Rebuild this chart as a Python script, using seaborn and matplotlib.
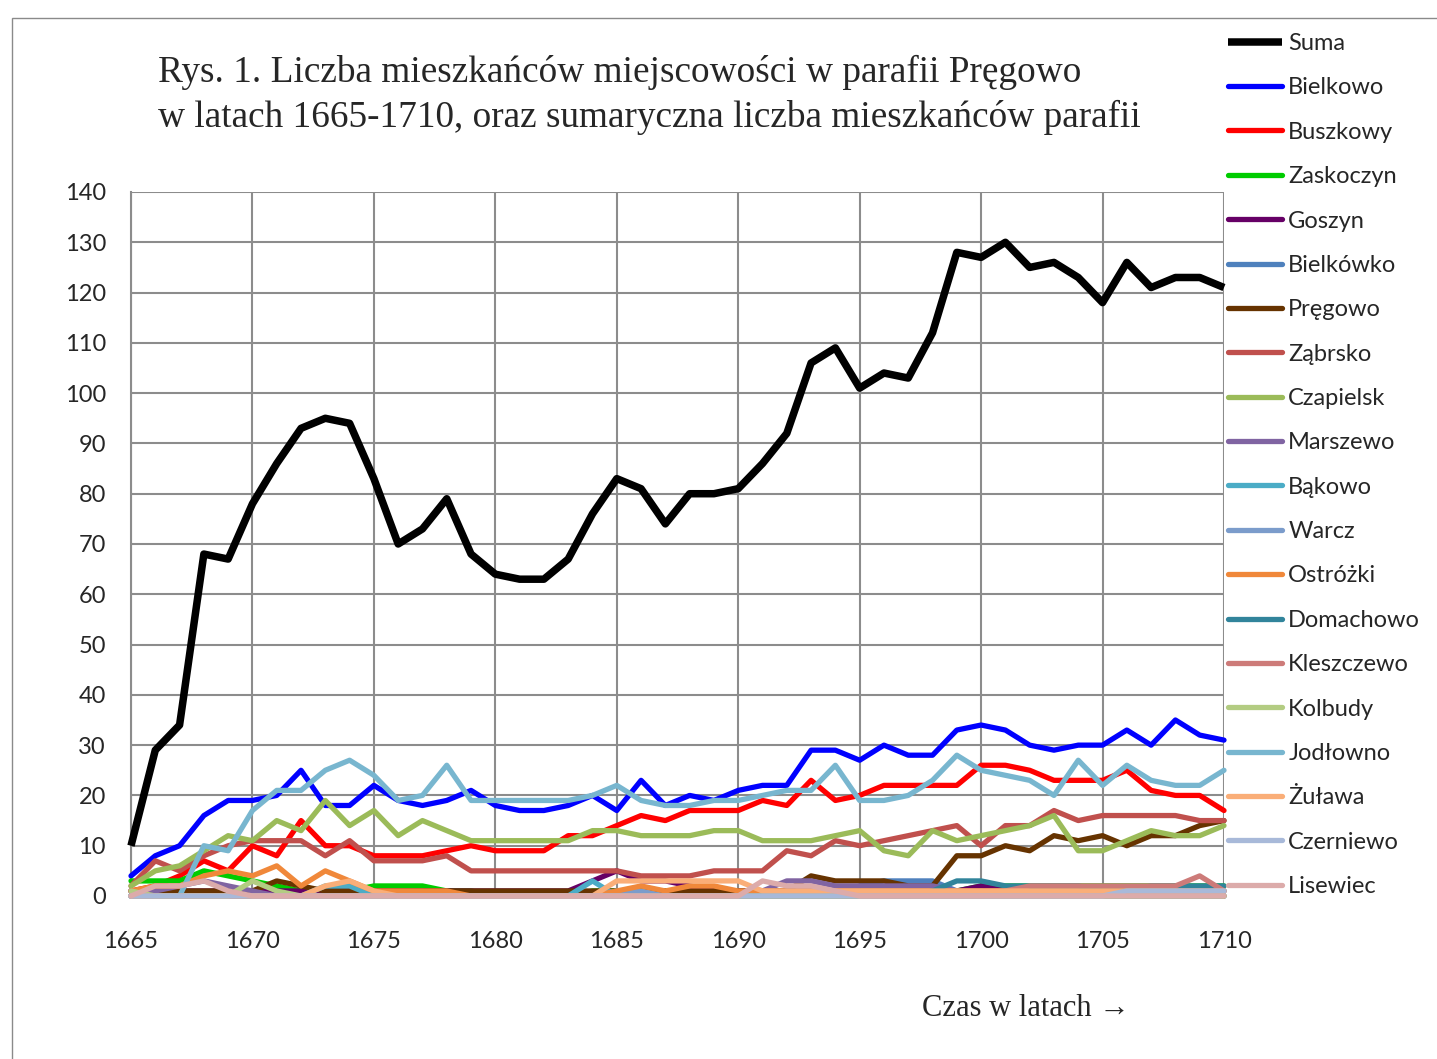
import seaborn as sns
import pandas as pd
import matplotlib.pyplot as plt
from matplotlib.patches import Rectangle

# lata i liczba mieszkancow
lata = list(range(1665, 1711))

suma = [10, 29, 34, 68, 67, 78, 86, 93, 95, 94,
        83, 70, 73, 79, 68, 64, 63, 63, 67, 76,
        83, 81, 74, 80, 80, 81, 86, 92, 106, 109,
        101, 104, 103, 112, 128, 127, 130, 125, 126, 123,
        118, 126, 121, 123, 123, 121]
bielkowo = [4, 8, 10, 16, 19, 19, 20, 25, 18, 18,
            22, 19, 18, 19, 21, 18, 17, 17, 18, 20,
            17, 23, 18, 20, 19, 21, 22, 22, 29, 29,
            27, 30, 28, 28, 33, 34, 33, 30, 29, 30,
            30, 33, 30, 35, 32, 31]
buszkowy = [1, 2, 4, 7, 5, 10, 8, 15, 10, 10,
            8, 8, 8, 9, 10, 9, 9, 9, 12, 12,
            14, 16, 15, 17, 17, 17, 19, 18, 23, 19,
            20, 22, 22, 22, 22, 26, 26, 25, 23, 23,
            23, 25, 21, 20, 20, 17]
zaskoczyn = [3, 3, 3, 5, 4, 3, 2, 1, 1, 1,
             2, 2, 2, 1, 1, 0, 0, 0, 0, 1,
             1, 1, 1, 0, 1, 0, 0, 0, 0, 0,
             0, 0, 0, 0, 1, 2, 2, 2, 2, 2,
             2, 2, 2, 2, 2, 2]
goszyn = [1, 1, 1, 1, 1, 1, 1, 1, 1, 1,
          1, 1, 1, 1, 1, 1, 1, 1, 1, 3,
          5, 3, 3, 2, 1, 1, 1, 1, 1, 1,
          1, 1, 1, 1, 1, 2, 1, 1, 1, 1,
          1, 1, 1, 1, 1, 1]
bielkowko = [0, 0, 0, 0, 0, 0, 0, 0, 0, 0,
             0, 0, 0, 0, 0, 0, 0, 0, 0, 0,
             0, 0, 0, 0, 0, 0, 0, 0, 0, 0,
             2, 3, 3, 3, 1, 0, 0, 0, 0, 0,
             0, 0, 0, 0, 0, 1]
pregowo = [1, 1, 1, 1, 1, 1, 3, 2, 1, 1,
           1, 1, 1, 1, 1, 1, 1, 1, 1, 1,
           1, 1, 1, 1, 1, 1, 1, 1, 4, 3,
           3, 3, 2, 2, 8, 8, 10, 9, 12, 11,
           12, 10, 12, 12, 14, 15]
zabrsko = [2, 7, 5, 8, 10, 11, 11, 11, 8, 11,
           7, 7, 7, 8, 5, 5, 5, 5, 5, 5,
           5, 4, 4, 4, 5, 5, 5, 9, 8, 11,
           10, 11, 12, 13, 14, 10, 14, 14, 17, 15,
           16, 16, 16, 16, 15, 15]
czapielsk = [2, 5, 6, 9, 12, 11, 15, 13, 19, 14,
             17, 12, 15, 13, 11, 11, 11, 11, 11, 13,
             13, 12, 12, 12, 13, 13, 11, 11, 11, 12,
             13, 9, 8, 13, 11, 12, 13, 14, 16, 9,
             9, 11, 13, 12, 12, 14]
marszewo = [1, 1, 2, 3, 2, 1, 0, 0, 0, 0,
            0, 0, 0, 0, 0, 0, 0, 0, 0, 0,
            0, 0, 0, 0, 0, 0, 1, 3, 3, 2,
            2, 2, 2, 2, 1, 0, 0, 0, 0, 0,
            0, 0, 0, 0, 0, 0]
bakowo = [0, 0, 0, 0, 0, 0, 0, 0, 2, 2,
          0, 0, 0, 0, 0, 0, 0, 0, 0, 3,
          0, 0, 0, 0, 0, 0, 0, 0, 0, 0,
          0, 0, 0, 0, 0, 0, 0, 0, 0, 0,
          0, 0, 0, 0, 0, 0]
warcz = [0, 0, 0, 0, 0, 0, 0, 0, 0, 0,
         0, 0, 0, 0, 0, 0, 0, 0, 0, 0,
         1, 1, 0, 0, 0, 0, 0, 0, 0, 0,
         0, 0, 0, 0, 0, 0, 0, 0, 0, 0,
         0, 0, 0, 0, 0, 0]
ostrozki = [1, 2, 2, 4, 5, 4, 6, 2, 5, 3,
            1, 1, 1, 1, 0, 0, 0, 0, 0, 0,
            1, 2, 1, 2, 2, 1, 1, 1, 1, 1,
            1, 1, 1, 1, 1, 1, 1, 1, 1, 1,
            1, 1, 1, 1, 1, 0]
domachowo = [0, 0, 0, 0, 0, 0, 0, 0, 0, 0,
             0, 0, 0, 0, 0, 0, 0, 0, 0, 0,
             0, 0, 0, 0, 0, 0, 0, 0, 0, 0,
             0, 0, 0, 1, 3, 3, 2, 2, 2, 2,
             1, 1, 2, 2, 2, 2]
kleszczewo = [0, 0, 0, 0, 0, 0, 0, 0, 0, 0,
              0, 0, 0, 0, 0, 0, 0, 0, 0, 0,
              0, 0, 0, 0, 0, 0, 0, 0, 0, 0,
              0, 0, 0, 0, 0, 0, 1, 2, 2, 2,
              2, 2, 2, 2, 4, 1]
kolbudy = [1, 0, 0, 0, 0, 3, 1, 0, 0, 0,
           0, 0, 0, 0, 0, 0, 0, 0, 0, 0,
           0, 0, 0, 0, 0, 0, 0, 0, 0, 0,
           0, 0, 0, 0, 0, 0, 0, 0, 0, 0,
           0, 0, 0, 0, 0, 0]
jodlowno = [0, 0, 0, 10, 9, 17, 21, 21, 25, 27,
            24, 19, 20, 26, 19, 19, 19, 19, 19, 20,
            22, 19, 18, 18, 19, 19, 20, 21, 21, 26,
            19, 19, 20, 23, 28, 25, 24, 23, 20, 27,
            22, 26, 23, 22, 22, 25]
zulawa = [0, 0, 0, 0, 0, 0, 0, 0, 2, 3,
          1, 0, 0, 0, 0, 0, 0, 0, 0, 0,
          3, 3, 3, 3, 3, 3, 1, 1, 1, 1,
          1, 1, 1, 1, 1, 1, 1, 1, 1, 1,
          1, 1, 1, 1, 1, 1]
czerniewo = [0, 0, 0, 0, 0, 0, 0, 0, 0, 0,
             0, 0, 0, 0, 0, 0, 0, 0, 0, 0,
             0, 0, 0, 0, 0, 0, 0, 0, 0, 0,
             0, 0, 0, 0, 0, 0, 0, 0, 0, 0,
             0, 1, 1, 1, 1, 1]
lisewiec = [0, 2, 2, 3, 1, 0, 0, 0, 0, 0,
            0, 0, 0, 0, 0, 0, 0, 0, 0, 0,
            0, 0, 0, 0, 0, 0, 3, 2, 2, 1,
            0, 0, 0, 0, 0, 0, 0, 0, 0, 0,
            0, 0, 0, 0, 0, 0]

nazwy = ['Suma', 'Bielkowo', 'Buszkowy', 'Zaskoczyn', 'Goszyn', 'Bielkówko',
         'Pręgowo', 'Ząbrsko', 'Czapielsk', 'Marszewo', 'Bąkowo', 'Warcz',
         'Ostróżki', 'Domachowo', 'Kleszczewo', 'Kolbudy', 'Jodłowno',
         'Żuława', 'Czerniewo', 'Lisewiec']
wartosci = [suma, bielkowo, buszkowy, zaskoczyn, goszyn, bielkowko, pregowo,
            zabrsko, czapielsk, marszewo, bakowo, warcz, ostrozki, domachowo,
            kleszczewo, kolbudy, jodlowno, zulawa, czerniewo, lisewiec]
kolory = ['#000000', '#0000FF', '#FF0000', '#00CC00', '#660066', '#4F81BD',
          '#663300', '#C0504D', '#9BBB59', '#8064A2', '#4BACC6', '#7B9CCB',
          '#F0883A', '#31849B', '#CD7B79', '#B3CC82', '#78B6CF',
          '#FAAE78', '#A8B9D9', '#DCABAA']

df = pd.DataFrame({'rok': lata})
for n, v in zip(nazwy, wartosci):
    df[n] = v
df = df.melt(id_vars='rok', var_name='miejscowosc', value_name='liczba')

sns.set_style('white')
plt.rcParams['font.family'] = ['Lato', 'DejaVu Sans']

fig = plt.figure(figsize=(14.37, 10.59), dpi=100)
ax = fig.add_axes([131/1437, 1-896/1059, (1224-131)/1437, (896-192)/1059])

for i, (n, c) in enumerate(zip(nazwy, kolory)):
    sns.lineplot(data=df[df['miejscowosc'] == n], x='rok', y='liczba', color=c,
                 lw=5.4 if n == 'Suma' else 3.8, label=n, ax=ax, zorder=3+i,
                 clip_on=False, solid_joinstyle='round',
                 solid_capstyle='butt' if n == 'Suma' else 'round')

ax.set_xlim(1665, 1710)
ax.set_ylim(0, 140)
ax.set_xticks(range(1665, 1711, 5))
ax.set_yticks(range(0, 141, 10))
ax.grid(True, color='#8C8C8C', lw=1.5)
ax.set_axisbelow(True)
for s in ['top', 'right']:
    ax.spines[s].set_visible(False)
for s in ['left', 'bottom']:
    ax.spines[s].set_color('#8C8C8C')
    ax.spines[s].set_linewidth(1.5)
ax.tick_params(axis='y', length=7, width=1.5, color='#8C8C8C', pad=11, labelsize=17)
ax.tick_params(axis='x', length=7, width=1.5, color='#8C8C8C', pad=18, labelsize=17)
ax.set_xlabel('')
ax.set_ylabel('')

handles, labels = ax.get_legend_handles_labels()
ax.get_legend().remove()
fig.legend(handles, labels, loc='upper left', bbox_to_anchor=(1228/1437, 1-33/1059),
           frameon=False, fontsize=17, handlelength=2.3, handletextpad=0.25,
           labelspacing=0.99, borderpad=0, borderaxespad=0)

fig.text(158/1437, 1-72/1059, 'Rys. 1. Liczba mieszkańców miejscowości w parafii Pręgowo',
         family='Liberation Serif', fontsize=26.8, va='center', ha='left')
fig.text(158/1437, 1-117/1059, 'w latach 1665-1710, oraz sumaryczna liczba mieszkańców parafii',
         family='Liberation Serif', fontsize=26.8, va='center', ha='left')
fig.text(1026/1437, 1-1008/1059, 'Czas w latach →',
         family=['Liberation Serif', 'DejaVu Serif'], fontsize=22, va='center', ha='center')

fig.patches.append(Rectangle((12/1437, -0.05), 1.1, 1.05-18/1059, transform=fig.transFigure,
                             fill=False, edgecolor='#8A8A8A', lw=1))

fig.savefig('out.png', dpi=100)
